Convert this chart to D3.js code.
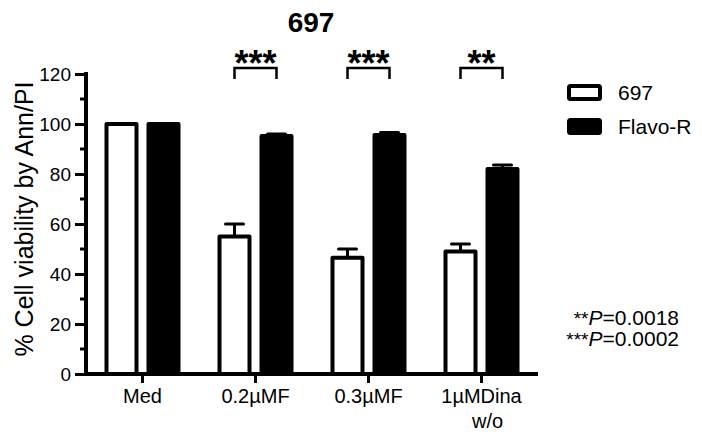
<!DOCTYPE html>
<html><head><meta charset="utf-8">
<script src="https://cdn.jsdelivr.net/npm/d3@7"></script>
<style>body{margin:0;background:#fff}svg{display:block}text{font-family:"Liberation Sans",Arial,sans-serif;fill:#000}</style>
</head><body><svg id="c" width="702" height="437"></svg>
<script>
const categories = ["Med", "0.2\u00b5MF", "0.3\u00b5MF", "1\u00b5MDina"];
const subLabels = ["", "", "", "w/o"];
const series697 = [100, 55, 46.5, 49];
const err697 = [0, 5, 3.5, 3];
const seriesFlavo = [100, 95.2, 95.6, 82];
const errFlavo = [0, 0.8, 1, 1.6];
const sigMarks = ["", "***", "***", "**"];
const yTicks = [0, 20, 40, 60, 80, 100, 120];
const seriesNames = ["697", "Flavo-R"];
const pNotes = [["**", "P", "=0.0018"], ["***", "P", "=0.0002"]];

const svg = d3.select("#c");
const x = d3.scaleBand().domain(categories).range([86, 538]).padding(0);
const y = d3.scaleLinear().domain([0, 120]).range([374, 74]);
const off = 21, bw = 30;

// title
svg.append("text").attr("x", 311).attr("y", 32).attr("text-anchor", "middle")
  .attr("font-size", 28).attr("font-weight", "bold").text("697");

// y axis
const yAxis = d3.axisLeft(y).tickValues(yTicks).tickSize(11).tickPadding(4).tickFormat(d3.format("d"));
const gy = svg.append("g").attr("transform", "translate(86,0)").call(yAxis);
gy.select(".domain").attr("stroke-width", 4).attr("d", "M0,72V376");
gy.selectAll(".tick line").attr("stroke-width", 3);
gy.selectAll(".tick text").attr("font-size", 19).attr("font-family", '"Liberation Sans",Arial,sans-serif').attr("dy", "0.36em");
const minor = d3.range(10, 120, 20);
gy.selectAll(".minor").data(minor).enter().append("line")
  .attr("x1", -6).attr("x2", 0).attr("y1", d => y(d)).attr("y2", d => y(d))
  .attr("stroke", "#000").attr("stroke-width", 3);

svg.append("text").attr("transform", "translate(33,219) rotate(-90)")
  .attr("text-anchor", "middle").attr("font-size", 25).text("% Cell viability by Ann/PI");

// bars
const gb = svg.append("g");
categories.forEach((c, i) => {
  const cx = x(c) + x.bandwidth() / 2;
  gb.append("rect").attr("x", cx - off - bw / 2).attr("y", y(series697[i]))
    .attr("width", bw).attr("height", y(0) - y(series697[i]))
    .attr("fill", "#fff").attr("stroke", "#000").attr("stroke-width", 4).attr("stroke-linejoin", "round");
  gb.append("rect").attr("x", cx + off - bw / 2).attr("y", y(seriesFlavo[i]))
    .attr("width", bw).attr("height", y(0) - y(seriesFlavo[i]))
    .attr("fill", "#000").attr("stroke", "#000").attr("stroke-width", 4).attr("stroke-linejoin", "round");
  [[cx - off, series697[i], err697[i]], [cx + off, seriesFlavo[i], errFlavo[i]]].forEach(([ex, v, e]) => {
    if (e <= 0) return;
    gb.append("path").attr("d", `M${ex},${y(v)}V${y(v + e)}M${ex - 9},${y(v + e)}H${ex + 9}`)
      .attr("stroke", "#000").attr("stroke-width", 3).attr("fill", "none").attr("stroke-linecap", "round");
  });
  if (sigMarks[i]) {
    const by = 68;
    gb.append("path").attr("d", `M${cx - off},${by + 11}V${by}H${cx + off}V${by + 11}`)
      .attr("stroke", "#000").attr("stroke-width", 2.5).attr("fill", "none");
    gb.append("text").attr("x", cx).attr("y", 76).attr("text-anchor", "middle")
      .attr("font-size", 36).attr("font-weight", "bold").text(sigMarks[i]);
  }
});

// x axis
const xAxis = d3.axisBottom(x).tickSize(9).tickPadding(6).tickFormat(d => d);
const gx = svg.append("g").attr("transform", "translate(0,374)").call(xAxis);
gx.select(".domain").attr("stroke-width", 4).attr("d", "M84,0H538");
gx.selectAll(".tick line").attr("stroke-width", 3);
gx.selectAll(".tick text").attr("font-size", 20).attr("font-family", '"Liberation Sans",Arial,sans-serif').attr("dy", 0).attr("y", 29);
gx.selectAll(".tick").each(function(d, i) {
  if (subLabels[i]) d3.select(this).append("text").attr("y", 54).attr("x", 6)
    .attr("text-anchor", "middle").attr("font-size", 20).attr("fill", "#000").text(subLabels[i]);
});

// legend
const lg = svg.append("g");
seriesNames.forEach((n, i) => {
  const ly = 86 + i * 34;
  lg.append("rect").attr("x", 569).attr("y", ly).attr("width", 31).attr("height", 13)
    .attr("fill", i === 0 ? "#fff" : "#000").attr("stroke", "#000").attr("stroke-width", 4).attr("rx", 1.5);
  lg.append("text").attr("x", 618).attr("y", ly + 14).attr("font-size", 21).text(n);
});

// p-value notes
pNotes.forEach((p, i) => {
  const t = svg.append("text").attr("x", 679).attr("y", 325 + i * 21).attr("text-anchor", "end").attr("font-size", 21);
  t.append("tspan").attr("font-size", 19).text(p[0]);
  t.append("tspan").attr("font-style", "italic").text(p[1]);
  t.append("tspan").text(p[2]);
});
</script></body></html>
